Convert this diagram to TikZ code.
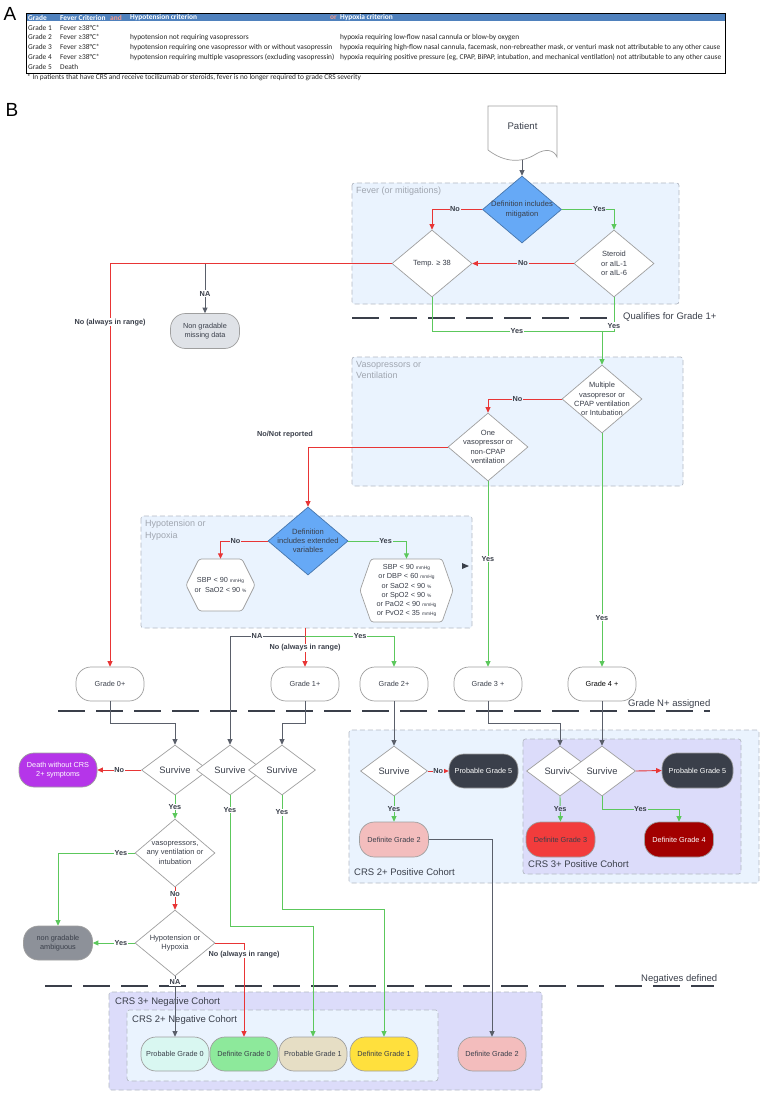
\documentclass[tikz,border=0pt]{standalone}
\usepackage{fontspec}
\setmainfont{Liberation Sans}
\newfontfamily\tabfont{Carlito}
\usepackage{xcolor}
\usetikzlibrary{arrows.meta,shapes.geometric}

\definecolor{ink}{HTML}{3A3F4A}
\definecolor{grpblue}{HTML}{EAF3FE}
\definecolor{grplav}{HTML}{DCDCFA}
\definecolor{grpline}{HTML}{B4BAC4}
\definecolor{grptxt}{HTML}{A0A6B0}
\definecolor{decblue}{HTML}{66A9F6}
\definecolor{lnred}{HTML}{E83535}
\definecolor{lngreen}{HTML}{5CC85C}
\definecolor{lngray}{HTML}{5A5F6A}
\definecolor{hdrblue}{HTML}{4F81BD}
\definecolor{hdrpink}{HTML}{F49A8C}
\definecolor{deathc}{HTML}{B535E9}
\definecolor{ambc}{HTML}{8D9199}
\definecolor{missc}{HTML}{DFE2E7}
\definecolor{pinkc}{HTML}{F3BDBD}
\definecolor{red3c}{HTML}{F23C3C}
\definecolor{red4c}{HTML}{A20000}
\definecolor{pg0c}{HTML}{D9F7F1}
\definecolor{dg0c}{HTML}{8DE99B}
\definecolor{pg1c}{HTML}{E6DEC5}
\definecolor{dg1c}{HTML}{FFE03D}

\newcommand\unitsm[1]{{\fontsize{4.8}{5}\selectfont #1}}

\begin{document}
\begin{tikzpicture}[x=1pt,y=-1pt,>={Triangle[length=5.5pt,width=5pt]},
  every node/.style={text=ink},
  tabtxt/.style={font=\tabfont\fontsize{7.4}{8.6}\selectfont,anchor=west,inner sep=0pt,text=black!85},
  tabhdr/.style={tabtxt,font=\tabfont\bfseries\fontsize{7.4}{8.6}\selectfont,text=white},
  grp/.style={draw=grpline,fill=grpblue,dash pattern=on 5pt off 3pt,rounded corners=2.5pt,line width=0.7pt},
  grptitle/.style={text=grptxt,font=\fontsize{9}{11.5}\selectfont,anchor=north west,align=left,inner sep=0pt},
  cohort/.style={font=\fontsize{9.5}{11}\selectfont,anchor=west,inner sep=0pt},
  dec/.style={diamond,draw=gray!75,fill=white,inner sep=0pt,line width=0.7pt,
    minimum width=80pt,minimum height=67pt},
  decb/.style={dec,fill=decblue,draw=decblue!70!black},
  dectxt/.style={font=\fontsize{7.5}{9.3}\selectfont,align=center,inner sep=0pt},
  surv/.style={dec,minimum width=67pt,minimum height=50pt},
  survtxt/.style={font=\fontsize{9.3}{10}\selectfont,inner sep=0pt},
  term/.style={rounded corners=15pt,draw=gray!75,fill=white,line width=0.7pt,
    minimum width=68pt,minimum height=34pt,inner sep=1pt,align=center,
    font=\fontsize{7.3}{9}\selectfont},
  hexline/.style={draw=gray!75,fill=white,line width=0.7pt,rounded corners=2.5pt},
  hextxt/.style={align=center,inner sep=0pt,font=\fontsize{7.3}{9.1}\selectfont},
  lnr/.style={draw=lnred,->,line width=0.9pt},
  lng/.style={draw=lngreen,->,line width=0.9pt},
  lnk/.style={draw=lngray,->,line width=0.9pt},
  lbl/.style={font=\bfseries\fontsize{7.3}{8}\selectfont,fill=white,inner sep=0.7pt},
  lblb/.style={lbl,fill=grpblue},
  lbll/.style={lbl,fill=grplav},
  sep/.style={draw=ink,line width=1.7pt,dash pattern=on 27pt off 11pt},
  seplbl/.style={font=\fontsize{9.5}{11}\selectfont,anchor=west,inner sep=0pt}]

  \useasboundingbox[fill=white] (0,0) rectangle (762,1094);

  % panel A: the grading table
  \node[font=\fontsize{19}{19}\selectfont,text=black] (pa) at (10,14) {A};
  \draw[line width=0.9pt] (26,13.5) rectangle (725,73);
  \fill[hdrblue] (26.5,14) rectangle (724.5,21.5);
  \node[tabhdr] (hgrade) at (28,17.8) {Grade};
  \node[tabhdr] (hfever) at (60,17.8) {Fever Criterion};
  \node[tabhdr,text=hdrpink] (hand) at (110,17.8) {and};
  \node[tabhdr] (hhypo) at (130,17.8) {Hypotension criterion};
  \node[tabhdr,text=hdrpink] (hor) at (330,17.8) {or};
  \node[tabhdr] (hhypx) at (340,17.8) {Hypoxia criterion};
  \foreach \r/\yy in {1/28,2/37.4,3/47.2,4/57,5/66.8}
    \node[tabtxt] (gr\r) at (28,\yy) {Grade \r};
  \foreach \r/\yy in {1/28,2/37.4,3/47.2,4/57}
    \node[tabtxt] (fv\r) at (60,\yy) {Fever ≥38°C*};
  \node[tabtxt] (fv5) at (60,66.8) {Death};
  \node[tabtxt] (hp2) at (130,37.4) {hypotension not requiring vasopressors};
  \node[tabtxt] (hp3) at (130,47.2) {hypotension requiring one vasopressor with or without vasopressin};
  \node[tabtxt] (hp4) at (130,57) {hypotension requiring multiple vasopressors (excluding vasopressin)};
  \node[tabtxt] (hx2) at (340,37.4) {hypoxia requiring low-flow nasal cannula or blow-by oxygen};
  \node[tabtxt] (hx3) at (340,47.2) {hypoxia requiring high-flow nasal cannula, facemask, non-rebreather mask, or venturi mask not attributable to any other cause};
  \node[tabtxt] (hx4) at (340,57) {hypoxia requiring positive pressure (eg, CPAP, BiPAP, intubation, and mechanical ventilation) not attributable to any other cause};
  \node[tabtxt] (fnote) at (27,77.2) {* In patients that have CRS and receive tocilizumab or steroids, fever is no longer required to grade CRS severity};

  % panel B: the flowchart
  \node[font=\fontsize{19}{19}\selectfont,text=black] (pb) at (12,110) {B};

  % groups
  \draw[grp] (352,183) rectangle (679,304);
  \node[grptitle] (tfever) at (356,187) {Fever (or mitigations)};
  \draw[grp] (352,357) rectangle (683,486);
  \node[grptitle] (tvaso) at (356,361) {Vasopressors or\\Ventilation};
  \draw[grp] (141,516) rectangle (472,628);
  \node[grptitle] (thypo) at (145,520) {Hypotension or\\Hypoxia};
  \draw[grp] (349,730) rectangle (759,883);
  \node[cohort] (tpos2) at (354,872) {CRS 2+ Positive Cohort};
  \draw[grp,fill=grplav] (523,739) rectangle (741,874);
  \node[cohort] (tpos3) at (528,864) {CRS 3+ Positive Cohort};
  \draw[grp,fill=grplav] (109,992) rectangle (542,1090);
  \node[cohort] (tneg3) at (115,1002) {CRS 3+ Negative Cohort};
  \draw[grp] (127,1010) rectangle (438,1081);
  \node[cohort] (tneg2) at (132,1020) {CRS 2+ Negative Cohort};

  % stage lines
  \draw[sep] (352,318) -- (618,318);
  \node[seplbl] (squal) at (623,317) {Qualifies for Grade 1+};
  \draw[sep] (58,711) -- (710,711);
  \node[seplbl] (sgrade) at (628,704.5) {Grade N+ assigned};
  \draw[sep] (45,986) -- (714,986);
  \node[seplbl] (sneg) at (641,979) {Negatives defined};

  \fill[ink] (462,563) -- (469,566) -- (462,569) -- cycle;

  % patient
  \draw[hexline,rounded corners=0pt] (488,150) .. controls (505,163) and (522,163) .. (536,154)
    .. controls (546,148) and (554,150) .. (557,157) -- (557,106) -- (488,106) -- cycle;
  \node[font=\fontsize{9.6}{11}\selectfont] (pat) at (522.5,126) {Patient};
  \coordinate (patb) at (522,160);

  % decisions, fever
  \node[decb,minimum width=79pt,label={[dectxt,font=\fontsize{7.6}{9.3}\selectfont]center:{Definition includes\\mitigation}}] (def) at (522,209.5) {};
  \node[dec,label={[dectxt]center:{Temp. ≥ 38}}] (temp) at (432,263.5) {};
  \node[dec,label={[dectxt]center:{Steroid\\or aIL-1\\or aIL-6}}] (ster) at (614,263.5) {};
  \node[term,fill=missc,minimum width=69pt,minimum height=35pt] (ngmiss) at (205,331) {Non gradable\\missing data};

  % decisions, vasopressors
  \node[dec,minimum height=68pt,label={[dectxt]center:{Multiple\\vasopresor or\\CPAP ventilation\\or Intubation}}] (multi) at (602,399) {};
  \node[dec,minimum height=68pt,label={[dectxt]center:{One\\vasopressor or\\non-CPAP\\ventilation}}] (one) at (488,447) {};

  % decisions, hypotension
  \node[decb,minimum height=68pt,label={[dectxt,font=\fontsize{7.6}{9.2}\selectfont]center:{Definition\\includes extended\\variables}}] (ext) at (308,541) {};
  \filldraw[hexline] (186,585) -- (199,559) -- (242,559) -- (255,585) -- (242,611) -- (199,611) -- cycle;
  \node[hextxt,minimum width=69pt,minimum height=52pt] (hexL) at (220.5,585)
    {SBP < 90 \unitsm{mmHg}\\or~~SaO2 < 90 \unitsm{\%}};
  \filldraw[hexline] (360,590.5) -- (371,559) -- (442,559) -- (453,590.5) -- (442,622) -- (371,622) -- cycle;
  \node[hextxt,minimum width=93pt,minimum height=63pt] (hexR) at (406.5,590.5)
    {SBP < 90 \unitsm{mmHg}\\or DBP < 60 \unitsm{mmHg}\\or SaO2 < 90 \unitsm{\%}\\or SpO2 < 90 \unitsm{\%}\\or PaO2 < 90 \unitsm{mmHg}\\or PvO2 < 35 \unitsm{mmHg}};

  % grades
  \node[term] (g0) at (110,684) {Grade 0+};
  \node[term] (g1) at (305,684) {Grade 1+};
  \node[term] (g2) at (394,684) {Grade 2+};
  \node[term] (g3) at (488,684) {Grade 3 +};
  \node[term,text=black] (g4) at (602,684) {Grade 4 +};

  % survival, left
  \node[surv,label={[survtxt]center:Survive}] (s1) at (175,770) {};
  \node[surv,label={[survtxt]center:Survive}] (s2) at (230,770) {};
  \node[surv,label={[survtxt]center:Survive}] (s3) at (282,770) {};
  \node[term,fill=deathc,text=white,minimum width=78pt] (death) at (58,770) {Death without CRS\\2+ symptoms};
  \node[dec,minimum height=68pt,label={[dectxt]center:{vasopressors,\\any ventilation or\\intubation}}] (vaso) at (175,853) {};
  \node[dec,minimum height=66pt,label={[dectxt]center:{Hypotension or\\Hypoxia}}] (hyp) at (175,943) {};
  \node[term,fill=ambc,minimum width=69pt] (ngamb) at (58,943) {non gradable\\ambiguous};

  % survival, positive cohorts
  \node[surv,label={[survtxt]center:Survive}] (sp2) at (394,771) {};
  \node[term,fill=ink,text=white,minimum width=69pt] (pg5a) at (483.5,771) {Probable Grade 5};
  \node[term,fill=pinkc,minimum width=69pt,minimum height=35pt] (dgp2) at (394,839.5) {Definite Grade 2};
  \node[surv,label={[survtxt]center:Survive}] (s3a) at (560,771) {};
  \node[surv,label={[survtxt]center:Survive}] (s3b) at (602,771) {};
  \node[term,fill=ink,text=white,minimum width=71pt,minimum height=35pt] (pg5b) at (697.5,770.5) {Probable Grade 5};
  \node[term,fill=red3c,minimum width=69pt,minimum height=35pt] (dg3) at (560.5,839.5) {Definite Grade 3};
  \node[term,fill=red4c,text=white,minimum width=69pt,minimum height=35pt] (dg4) at (679,839.5) {Definite Grade 4};

  % negative cohorts
  \node[term,fill=pg0c] (pg0) at (175,1054) {Probable Grade 0};
  \node[term,fill=dg0c] (dg0) at (244,1054) {Definite Grade 0};
  \node[term,fill=pg1c] (pg1) at (313,1054) {Probable Grade 1};
  \node[term,fill=dg1c] (dg1) at (384,1054) {Definite Grade 1};
  \node[term,fill=pinkc] (dgn2) at (492,1054) {Definite Grade 2};

  % connectors, fever
  \draw[lnk] (patb) -- (def.north);
  \draw[lnr] (def.west) -| node[lblb,pos=0.27]{No} (temp.north);
  \draw[lng] (def.east) -| node[lblb,pos=0.36]{Yes} (ster.north);
  \draw[lnr] (ster.west) -- node[lblb]{No} (temp.east);
  \draw[lnr] (temp.west) -| node[lbl,pos=0.573]{No (always in range)} (g0.north);
  \coordinate (najn) at (205,264);
  \draw[lnk] (najn) -- node[lbl,pos=0.6]{NA} (ngmiss.north);
  \coordinate (yj) at (602,331);
  \draw[lng,-] (temp.south) |- node[lbl,pos=0.75]{Yes} (yj);
  \draw[lng,-] (ster.south) |- node[lbl,pos=0.42]{Yes} (yj);
  \draw[lng] (yj) -- (multi.north);

  % connectors, vasopressors and hypotension
  \draw[lnr] (multi.west) -| node[lblb,pos=0.3]{No} (one.north);
  \draw[lnr] (one.west) -| (ext.north);
  \node[lbl] (nnr) at (285,435) {No/Not reported};
  \draw[lnr] (ext.west) -| node[lblb,pos=0.34]{No} (hexL.north);
  \draw[lng] (ext.east) -| node[lblb,pos=0.32]{Yes} (hexR.north);
  \draw[lng] (one.south) -- node[lbl,pos=0.42]{Yes} (g3.north);
  \draw[lng] (multi.south) -- node[lbl,pos=0.79]{Yes} (g4.north);
  \coordinate (hb) at (305,628);
  \coordinate (hj) at (305,636);
  \draw[lnr] (hb) -- node[lbl,pos=0.51]{No (always in range)} (g1.north);
  \draw[lnk] (hj) -| node[lbl,pos=0.32]{NA} (s2.north);
  \draw[lng] (hj) -| node[lbl,pos=0.31]{Yes} (g2.north);

  % connectors, grades to survival
  \draw[lnk] (g0.south) -- ++(0,22) -| (s1.north);
  \draw[lnk] (g1.south) -- ++(0,22) -| (s3.north);
  \draw[lnk] (g2.south) -- (sp2.north);
  \draw[lnk] (g3.south) -- ++(0,22) -| (s3a.north);
  \draw[lnk] (g4.south) -- (s3b.north);

  % connectors, left side
  \draw[lnr] (s1.west) -- node[lbl]{No} (death.east);
  \draw[lng] (s1.south) -- node[lbl]{Yes} (vaso.north);
  \draw[lng] (s2.south) -- node[lbl,pos=0.11]{Yes} ++(0,131) -| (pg1.north);
  \draw[lng] (s3.south) -- node[lbl,pos=0.15]{Yes} ++(0,114) -| (dg1.north);
  \draw[lng] (vaso.west) -| node[lbl,pos=0.09]{Yes} (ngamb.north);
  \draw[lnr] (vaso.south) -- node[lbl,pos=0.3]{No} (hyp.north);
  \draw[lng] (hyp.west) -- node[lbl,pos=0.33]{Yes} (ngamb.east);
  \draw[lnr] (hyp.east) -| node[lbl,pos=0.56]{No (always in range)} (dg0.north);
  \draw[lnk] (hyp.south) -- node[lbl,pos=0.1]{NA} (pg0.north);

  % connectors, positive cohorts
  \draw[lnr] (sp2.east) -- node[lblb]{No} (pg5a.west);
  \draw[lng] (sp2.south) -- node[lblb]{Yes} (dgp2.north);
  \draw[lnk] (dgp2.east) -| (dgn2.north);
  \draw[lng] (s3a.south) -- node[lbll]{Yes} (dg3.north);
  \draw[lnr] (s3b.east) -- (pg5b.west);
  \draw[lng] (s3b.south) -- ++(0,13) -| node[lbll,pos=0.25]{Yes} (dg4.north);
\end{tikzpicture}
\end{document}
